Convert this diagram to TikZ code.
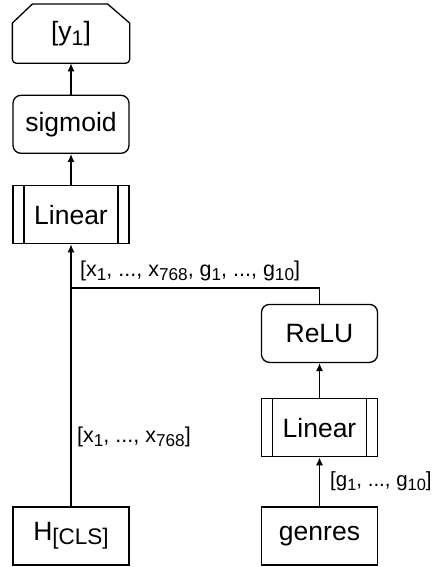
\documentclass[tikz,border=0pt]{standalone}
\usepackage{fontspec}
\setmainfont{Liberation Sans}
\usetikzlibrary{arrows.meta, positioning}
\newcommand{\lowsub}[1]{\raisebox{-0.35ex}{\scalebox{0.8}{#1}}}

\begin{document}
\begin{tikzpicture}[
    x=1pt, y=-1pt,
    every node/.style={font=\fontsize{26.5}{30}\selectfont, inner sep=0pt},
    block/.style={rectangle, draw, line width=1.3pt, minimum width=116pt, minimum height=58pt},
    roundblock/.style={block, rounded corners=8pt},
    procblock/.style={block, path picture={
        \draw[line width=1.3pt] ([xshift=11pt]path picture bounding box.north west) -- ([xshift=11pt]path picture bounding box.south west)
            ([xshift=-11pt]path picture bounding box.north east) -- ([xshift=-11pt]path picture bounding box.south east);}},
    edgelabel/.style={font=\fontsize{21.5}{25}\selectfont, anchor=west},
    myarrow/.style={-{Latex[length=8pt,width=7pt]}, line width=1.3pt},
    node distance=31pt
]
\useasboundingbox (0,0) rectangle (431,567);

% Left column
\node[block, draw=none] (out) at (71,33.7) {[y\lowsub{1}]};
\draw[line width=1.3pt] ([yshift=-19pt]out.north west) -- ([xshift=20pt]out.north west)
    -- ([xshift=-22pt]out.north east) -- ([yshift=-19pt]out.north east)
    {[rounded corners=4pt] -- (out.south east) -- (out.south west)} -- cycle;
\node[roundblock, below=31.3pt of out] (sig) {sigmoid};
\node[procblock, below=31pt of sig] (lin1) {Linear};
\node[block] (hcls) at (71,536) {H\raisebox{-0.3ex}{\scalebox{0.85}{[CLS]}}};

% Right column
\node[block] (genres) at (319.5,536) {genres};
\node[procblock, above=49pt of genres] (lin2) {Linear};
\node[roundblock, above=35pt of lin2] (relu) {ReLU};

% Connectors
\coordinate (merge) at (71,288);
\draw[myarrow] (hcls) -- (lin1);
\draw[line width=1.3pt] (relu.north) |- (merge);
\draw[myarrow] (genres) -- (lin2);
\draw[myarrow] (lin2) -- (relu);
\draw[myarrow] (lin1) -- (sig);
\draw[myarrow] (sig) -- (out);

% Labels
\node[edgelabel] (lblall) at (80,271) {[x\lowsub{1}, ..., x\lowsub{768}, g\lowsub{1}, ..., g\lowsub{10}]};
\node[edgelabel] (lblx) at (77,437) {[x\lowsub{1}, ..., x\lowsub{768}]};
\node[edgelabel, font=\fontsize{20.5}{25}\selectfont] (lblg) at (330,481) {[g\lowsub{1}, ..., g\lowsub{10}]};

\end{tikzpicture}
\end{document}
